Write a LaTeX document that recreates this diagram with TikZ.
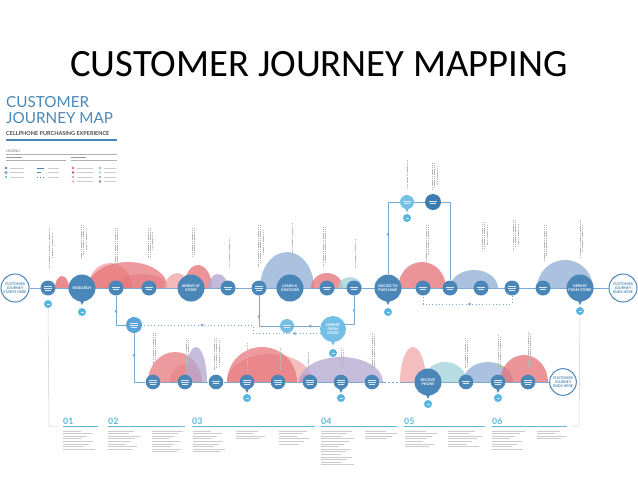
\documentclass[tikz,border=0pt]{standalone}
\usepackage{fontspec}
\setmainfont{Carlito}
\newfontfamily\latofam{Lato}
\usetikzlibrary{arrows.meta,decorations.markings}
\definecolor{cb}{HTML}{4A86B8}
\definecolor{cd}{HTML}{3E7BAE}
\definecolor{lb}{HTML}{74BFE6}
\definecolor{mb}{HTML}{5BA3D6}
\definecolor{bd}{HTML}{56B6DF}
\definecolor{ln}{HTML}{7DA8CF}
\definecolor{rd}{HTML}{E57074}
\definecolor{pk}{HTML}{F2AEB0}
\definecolor{pu}{HTML}{B4A8D2}
\definecolor{bl}{HTML}{9DB7DB}
\definecolor{tl}{HTML}{A6D5DB}
\definecolor{sec}{HTML}{5BB9DA}
\definecolor{tt}{HTML}{4A88BA}
\newcommand\nfont{\latofam\bfseries\fontsize{3.1}{3.5}\selectfont}
\newcommand\gfont{\fontsize{2}{1.9}\selectfont}
\newcommand\gk[1]{{\color{white!80!cb}\rule{#1}{0.15mm}}}
\newcommand\twobar{\gk{2.6mm}\\\gk{2.0mm}}
\newcommand\threebar{\gk{2.2mm}\\\gk{2.6mm}\\\gk{1.6mm}}
\newcommand\pointer[2]{\fill[#2] ([xshift=-0.6mm,yshift=0.3mm]#1.south) -- ([xshift=0.6mm,yshift=0.3mm]#1.south) -- ([yshift=-1.0mm]#1.south) -- cycle;}
\begin{document}
\begin{tikzpicture}[x=0.3mm,y=-0.3mm,
  big/.style={circle, fill=cb, minimum size=8.1mm, inner sep=0pt, text=white, font=\nfont, align=center},
  sml/.style={circle, fill=cb, minimum size=4.5mm, inner sep=0pt, text=white, font=\gfont, align=center},
  bsml/.style={sml, minimum size=4.4mm},
  bdg/.style={circle, fill=bd, minimum size=2.4mm, inner sep=0pt, text=white, font=\gfont},
  endc/.style={circle, draw=cb, line width=0.3mm, fill=white, minimum size=8.4mm, inner sep=0pt, text=cb, font=\nfont, align=center},
  flow/.style={draw=ln, line width=0.3mm},
  anno/.style={draw=black!28, line width=0.18mm, dash pattern=on 0.4mm off 0.15mm},
  txt/.style={draw=black!20, line width=0.2mm},
  flowarrow/.style={postaction={decorate}, decoration={markings, mark=at position #1 with {\arrow{Triangle[length=0.9mm,width=0.9mm]}}}},
  twoarrows/.style={postaction={decorate}, decoration={markings, mark=at position 0.15 with {\arrow{Triangle[length=0.9mm,width=0.9mm]}}, mark=at position 0.69 with {\arrow{Triangle[length=0.9mm,width=0.9mm]}}}}
]
\useasboundingbox (0,0) rectangle (638,479);
\fill[white] (0,0) rectangle (638,479);

% slide title
\node[font=\fontsize{33}{35}\selectfont, text=black] (title) at (319,64) {CUSTOMER JOURNEY MAPPING};

% map heading
\node[anchor=north west, inner sep=0pt, align=left, text=tt, font=\latofam\fontsize{13}{13.6}\selectfont] (maph) at (6,96) {CUSTOMER\\JOURNEY MAP};
\node[anchor=west, inner sep=0pt, text=black!70, font=\latofam\bfseries\fontsize{4.7}{5}\selectfont] (sub) at (6,134) {CELLPHONE PURCHASING EXPERIENCE};
\draw[tt, line width=0.55mm] (6,140) -- (117,140);

% legend
\node[anchor=west, inner sep=0pt, text=black!55, font=\latofam\fontsize{3}{3.5}\selectfont] (leg) at (6,151) {LEGEND};
\draw[black!30, line width=0.12mm] (6,154) -- (117,154);
\draw[black!40, line width=0.22mm] (6,157.5) -- (22,157.5) (71,157.5) -- (86,157.5);
\draw[black!30, line width=0.12mm] (6,160) -- (66,160) (71,160) -- (117,160);
\fill[cb] (6,168) circle[radius=1.3];
\draw[cb, line width=0.15mm] (6,172.5) circle[radius=1.2];
\fill[lb] (6,177) circle[radius=1.3];
\draw[cb, line width=0.25mm] (37,168) -- (44,168);
\draw[cb, line width=0.25mm, dashed] (37,172.5) -- (44,172.5);
\draw[cb, line width=0.25mm, dotted] (37,177) -- (44,177);
\foreach \yy in {168,172.5,177}{\draw[txt] (10,\yy) -- (24,\yy); \draw[txt] (48,\yy) -- (59,\yy);}
\fill[rd] (73,168) circle[radius=1.3];
\fill[rd!80!black] (73,172.5) circle[radius=1.3];
\fill[rd!70] (73,177) circle[radius=1.3];
\fill[pk] (73,181.5) circle[radius=1.3];
\fill[bl] (100,168) circle[radius=1.3];
\fill[tl] (100,172.5) circle[radius=1.3];
\fill[pu] (100,177) circle[radius=1.3];
\fill[pu!80!black] (100,181.5) circle[radius=1.3];
\foreach \yy in {168,172.5,177,181.5}{\draw[txt] (77,\yy) -- (93,\yy); \draw[txt] (104,\yy) -- (116,\yy);}

% emotion arcs, top row
\begin{scope}
\clip (0,150) rectangle (638,288);
\foreach \cx/\rx/\ry/\cc/\op in {62/7/12/rd/0.8, 110/22/25/pk/0.9, 128/40/26/rd/0.7, 142/26/14/rd/0.45, 177/12/15/pk/0.85, 198/14/23/rd/0.75, 218/10/14/pu/0.8, 287/27/36/bl/0.85, 327/16/15/rd/0.75, 350/12/11/tl/0.8, 422/24/26/rd/0.75, 474/24/18/bl/0.85, 565/28/28/bl/0.85}
  \fill[\cc, fill opacity=\op] (\cx,288) ellipse[x radius=\rx, y radius=\ry];
\end{scope}
% emotion arcs, bottom row
\begin{scope}
\clip (0,330) rectangle (638,382);
\foreach \cx/\rx/\ry/\cc/\op in {175/27/30/rd/0.7, 186/16/18/rd/0.35, 196/11/35/pu/0.75, 270/43/28/pk/0.8, 262/35/35/rd/0.7, 305/6/8/rd/0.7, 341/42/25/pu/0.75, 413/13/35/pk/0.8, 445/22/20/tl/0.8, 488/25/20/bl/0.85, 524/24/27/rd/0.75}
  \fill[\cc, fill opacity=\op] (\cx,382) ellipse[x radius=\rx, y radius=\ry];
\end{scope}

% annotation columns (vertical small text)
\foreach \ax/\aa/\ab in {49/228/267, 52/233/258, 81/225/258, 83.5/225/255, 86/228/250, 115/228/265, 117.5/228/262, 148/228/258, 150/228/256, 152/232/250, 192/228/257, 194.5/228/254, 229/238/267, 258/225/267, 260.5/225/262, 263/230/255, 292/223/257, 323/227/267, 325.5/227/262, 355/239/267, 407/160/188, 432/163/190, 434.5/163/188, 437/166/185, 426/225/260, 428.5/225/255, 450/237/267, 482/222/250, 484.5/222/248, 487/225/245, 513/220/250, 515.5/220/246, 518/224/244, 544/225/260, 546.5/225/256, 580/220/257, 582.5/225/252,
 153/333/367, 155.5/333/365, 186/338/370, 188.5/340/368, 214/338/370, 216.5/338/368, 219/340/366, 247/343/372, 280/348/370, 308/352/370, 341/348/370, 343.5/350/368, 372/332/370, 374.5/334/368, 465/338/368, 467.5/340/366, 498/335/370, 500.5/337/368, 528/332/368, 530.5/334/366}
  \draw[anno] (\ax,\aa) -- (\ax,\ab);

% nodes, top row
\node[endc] (st) at (15,288) {CUSTOMER\\JOURNEY\\STARTS HERE};
\node[endc] (en) at (623,288) {CUSTOMER\\JOURNEY\\ENDS HERE};

\draw[flow] (st) -- (en);

\node[sml] (a1) at (48,288) {\threebar};
\node[big] (res) at (82,288) {RESEARCH};
\node[sml] (a3) at (116,288) {\twobar};
\node[sml] (a4) at (149,288) {\twobar};
\node[big] (arr) at (191,288) {ARRIVE AT\\STORE};
\node[sml] (a6) at (228,288) {\twobar};
\node[sml] (a7) at (259,288) {\threebar};
\node[big] (lrn) at (290,288) {LEARN \&\\DISCOVER};
\node[sml] (a9) at (327,288) {\twobar};
\node[sml] (a10) at (354,288) {\twobar};
\node[big] (dec) at (388,288) {DECIDE TO\\PURCHASE};
\node[sml] (a12) at (423,288) {\twobar};
\node[sml] (a13) at (450,288) {\twobar};
\node[sml] (a14) at (481,288) {\twobar};
\node[sml] (a15) at (512,288) {\threebar};
\node[sml] (a16) at (543,288) {\twobar};
\node[big] (dep) at (580,288) {DEPART\\FROM STORE};

% upper loop
\node[sml, fill=lb, minimum size=4.2mm] (t1) at (407,202) {\twobar};
\node[sml, fill=cd, minimum size=4.8mm] (t2) at (433,202) {\twobar};
\draw[flow, flowarrow=0.5] (dec.north) |- (t1.west);
\draw[flow] (t1) -- (t2);
\draw[flow] (t2.east) -| (a13.north);
\pointer{t1}{lb}
\node[bdg] (bt1) at (407,218) {\gk{0.9mm}};

% badges top row
\node[bdg] (b01) at (48,304) {\gk{0.9mm}};
\pointer{res}{cb}
\node[bdg] (bres) at (82,312) {\gk{0.9mm}};
\pointer{dec}{cb}
\node[bdg] (bdec) at (388,312) {\gk{0.9mm}};
\pointer{dep}{cb}
\node[bdg] (bdep) at (580,311) {\gk{0.9mm}};

% dotted loop right
\coordinate (dl1) at (512,304);
\coordinate (dl2) at (423,304);
\draw[flow, dotted, flowarrow=0.5] (a15.south) -- (dl1) -- (dl2) -- (a12.south);

% middle connectors
\node[sml, fill=mb, minimum size=4.8mm] (L) at (134,325) {\threebar};
\node[sml, fill=lb, minimum size=4.2mm] (S) at (287,326) {\twobar};
\node[big, fill=lb, minimum size=7.8mm] (D) at (333,329) {DEPART\\FROM\\STORE};
\pointer{D}{lb}
\node[bdg] (bD) at (333,353) {\gk{0.9mm}};
\draw[flow, flowarrow=0.45] (a3.south) |- (L.west);
\draw[flow, flowarrow=0.35] (a7.south) |- (S.east);
\draw[flow, flowarrow=0.45] (D.west |- S) -- (S.east);
\draw[flow, flowarrow=0.45] (a10.south) |- (D.20);
\coordinate (dj) at (253,325);
\draw[flow, dotted, twoarrows] (D.200) -- (D.200 -| dj) -- (dj) -- (L.east);

% bottom row
\node[bsml] (b1) at (153,382) {\threebar};
\node[bsml] (b2) at (185,382) {\threebar};
\node[bsml] (b3) at (216,382) {\twobar};
\node[bsml] (b4) at (247,382) {\threebar};
\node[bsml] (b5) at (278,382) {\threebar};
\node[bsml] (b6) at (310,382) {\threebar};
\node[bsml] (b7) at (341,382) {\threebar};
\node[bsml] (b8) at (372,382) {\threebar};
\node[big] (rcv) at (428,382) {RECEIVE\\PHONE};
\node[bsml] (b10) at (466,382) {\twobar};
\node[bsml] (b11) at (498,382) {\threebar};
\node[bsml] (b12) at (528,382) {\threebar};
\node[endc, minimum size=8mm] (en2) at (563,382) {CUSTOMER\\JOURNEY\\ENDS HERE};
\coordinate (g1) at (384,382);
\coordinate (g2) at (402,382);
\draw[flow, flowarrow=0.4] (L.south) |- (b1.west);
\foreach \p/\q in {b1/b2,b2/b3,b3/b4,b4/b5,b5/b6,b6/b7,b7/b8} \draw[flow] (\p) -- (\q);
\draw[flow] (b8) -- (g1);
\draw[flow, dash pattern=on 0.6mm off 0.6mm] (g1) -- (g2);
\draw[flow] (g2) -- (rcv);
\draw[flow] (rcv) -- (b10);
\draw[flow] (b10) -- (b11);
\draw[flow] (b11) -- (b12);
\draw[flow] (b12) -- (en2);
\pointer{b4}{cb}
\node[bdg] (bb4) at (247,398) {\gk{0.9mm}};
\pointer{b7}{cb}
\node[bdg] (bb7) at (341,398) {\gk{0.9mm}};
\pointer{rcv}{cb}
\node[bdg] (brcv) at (428,404) {\gk{0.9mm}};
\pointer{b11}{cb}
\node[bdg] (bb11) at (498,398) {\gk{0.9mm}};

% side guide lines
\coordinate (lg1) at (49,426);
\coordinate (lg2) at (58,426);
\coordinate (rg1) at (579,426);
\coordinate (rg2) at (572,426);
\draw[black!20, line width=0.15mm] (b01.south) -- (lg1) -- (lg2);
\draw[black!20, line width=0.15mm] (bdep.south) -- (rg1) -- (rg2);

% section headers
\foreach \sx/\sl/\sn in {63/35/01, 108/77/02, 192/123/03, 321/76/04, 404/81/05, 492/75/06}{
  \node[anchor=south west, inner sep=0pt, text=sec, font=\latofam\bfseries\fontsize{7.5}{8}\selectfont] (s\sn) at (\sx,424.5) {\sn};
  \draw[sec, line width=0.45mm] (\sx,426.5) -- ++(\sl,0);
}
% section text blocks
\foreach \bx/\by/\bn/\bw in {63/431/8/32, 108/431/8/32, 152/431/9/31, 193/431/9/32, 236/431/4/32, 279/431/6/33, 321/431/14/33, 365/431/4/32, 405/431/7/32, 448/431/7/34, 492/431/8/33, 537/431/4/30}{
  \foreach \i in {1,...,\bn}{
    \pgfmathsetmacro\len{\bw*(0.55+0.45*mod(\i*7+\bx,10)/9)}
    \draw[txt] (\bx,{\by+\i*2.6-2.6}) -- ++(\len,0);
  }
}
\end{tikzpicture}
\end{document}
